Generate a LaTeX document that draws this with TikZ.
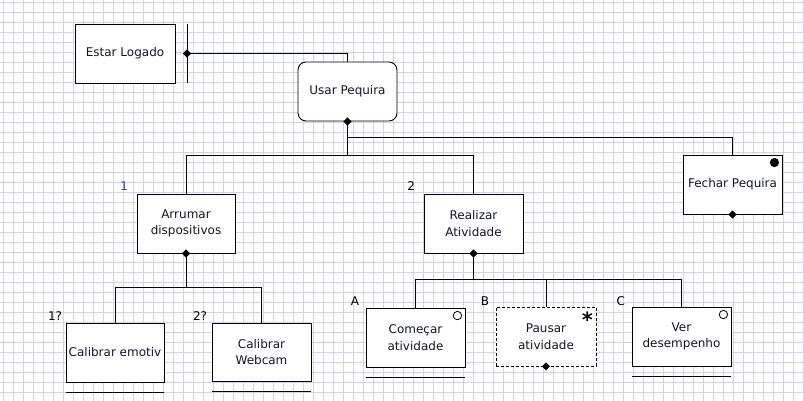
\documentclass[tikz,border=0pt]{standalone}
\usepackage{fontspec}
\setmainfont{DejaVu Sans}
\usetikzlibrary{calc}
\usetikzlibrary{shapes.geometric}
\definecolor{gridlila}{RGB}{210,210,240}
\definecolor{inkblue}{RGB}{20,20,50}
\definecolor{tagblue}{RGB}{40,70,170}

\begin{document}
\begin{tikzpicture}[x=1pt,y=-1pt,line width=0.9pt,
                        task/.style={draw,fill=white,minimum width=99pt,minimum height=59pt,
                            inner sep=1pt,align=center,text=inkblue,font=\fontsize{12}{16.5}\selectfont},
                        knot/.style={diamond,fill=black,inner sep=0pt,minimum size=8.5pt},
                        tag/.style={anchor=base east,inner sep=0pt,font=\fontsize{12}{14}\selectfont}]
                        \useasboundingbox (0,0) rectangle (804,401);
                        % squared paper
                        \foreach \g in {3.5,13.5,...,803.5} \draw[gridlila,line width=1.1pt] (\g,0) -- (\g,401);
                        \foreach \g in {2.5,12.5,...,392.5} \draw[gridlila,line width=1.1pt] (0,\g) -- (804,\g);
                        % tasks
                        \node[task,minimum width=100pt] (logado) at (125,53.5) {Estar Logado};
                        \node[task,rounded corners=8pt] (usar) at (347.5,91.5) {Usar Pequira};
                        \node[task] (fechar) at (732.5,184.5) {Fechar Pequira};
                        \node[task,minimum width=98pt] (arrumar) at (186,223.5) {Arrumar\\dispositivos};
                        \node[task] (realizar) at (473.5,223.5) {Realizar\\Atividade};
                        \node[task,minimum width=98pt] (emotiv) at (115,352.5) {Calibrar emotiv};
                        \node[task,minimum height=58pt] (webcam) at (261.5,352) {Calibrar\\Webcam};
                        \node[task] (comecar) at (415.5,337.5) {Começar\\atividade};
                        \node[task,minimum width=100pt,dash pattern=on 3pt off 2pt,line width=0.8pt] (pausar) at (546,336.5) {Pausar\\atividade};
                        \node[task] (ver) at (681.5,336.5) {Ver\\desempenho};
                        % precondition bar
                        \coordinate (barMid) at ([xshift=11.5pt]logado.east);
                        \draw ([xshift=11.5pt]logado.north east) -- ([xshift=11.5pt]logado.south east);
                        \draw (barMid) -| (usar.north);
                        % tree
                        \draw (usar.south) -- ++(0,16) -| (fechar.north);
                        \draw (usar.south) -- ++(0,34) coordinate (hub);
                        \draw (arrumar.north) |- (hub) -| (realizar.north);
                        \draw (arrumar.south) -- ++(0,34) coordinate (hubA);
                        \draw (emotiv.north) |- (hubA) -| (webcam.north);
                        \draw (realizar.south) -- ++(0,26) coordinate (hubR);
                        \draw (comecar.north) |- (hubR) -| (ver.north);
                        \draw (hubR -| pausar.north) -- (pausar.north);
                        % diamonds
                        \node[knot] (k0) at (barMid) {};
                        \node[knot] (k1) at (usar.south) {};
                        \node[knot] (k2) at (fechar.south) {};
                        \node[knot] (k3) at (arrumar.south) {};
                        \node[knot] (k4) at (realizar.south) {};
                        \node[knot] (k5) at (pausar.south) {};
                        % corner marks
                        \fill ([xshift=-8pt,yshift=-8pt]fechar.north east) circle (4.6pt);
                        \draw[line width=0.8pt] ([xshift=-8pt,yshift=-8pt]comecar.north east) circle (4.2pt);
                        \draw[line width=0.8pt] ([xshift=-8pt,yshift=-8pt]ver.north east) circle (4.2pt);
                        \node[font=\bfseries\fontsize{21}{21}\selectfont,inner sep=0pt,anchor=base] (star)
                            at ([xshift=-9pt,yshift=-21pt]pausar.north east) {*};
                        % underlines
                        \draw ([yshift=-10pt]emotiv.south west) -- ([yshift=-10pt]emotiv.south east);
                        \draw ([yshift=-10pt]webcam.south west) -- ([yshift=-10pt]webcam.south east);
                        \draw ([yshift=-10pt]comecar.south west) -- ([yshift=-10pt]comecar.south east);
                        \draw ([yshift=-10pt]ver.south west) -- ([yshift=-10pt]ver.south east);
                        % order tags
                        \node[tag,text=tagblue] (t1) at ([xshift=-8pt,yshift=3pt]arrumar.north west) {1};
                        \node[tag] (t2) at ([xshift=-8pt,yshift=3pt]realizar.north west) {2};
                        \node[tag] (t1q) at ([xshift=-3pt,yshift=2pt]emotiv.north west) {1?};
                        \node[tag] (t2q) at ([xshift=-4pt,yshift=2pt]webcam.north west) {2?};
                        \node[tag] (tA) at ([xshift=-6pt,yshift=2pt]comecar.north west) {A};
                        \node[tag] (tB) at ([xshift=-6pt,yshift=1pt]pausar.north west) {B};
                        \node[tag] (tC) at ([xshift=-6pt,yshift=1pt]ver.north west) {C};
                    \end{tikzpicture}
\end{document}
